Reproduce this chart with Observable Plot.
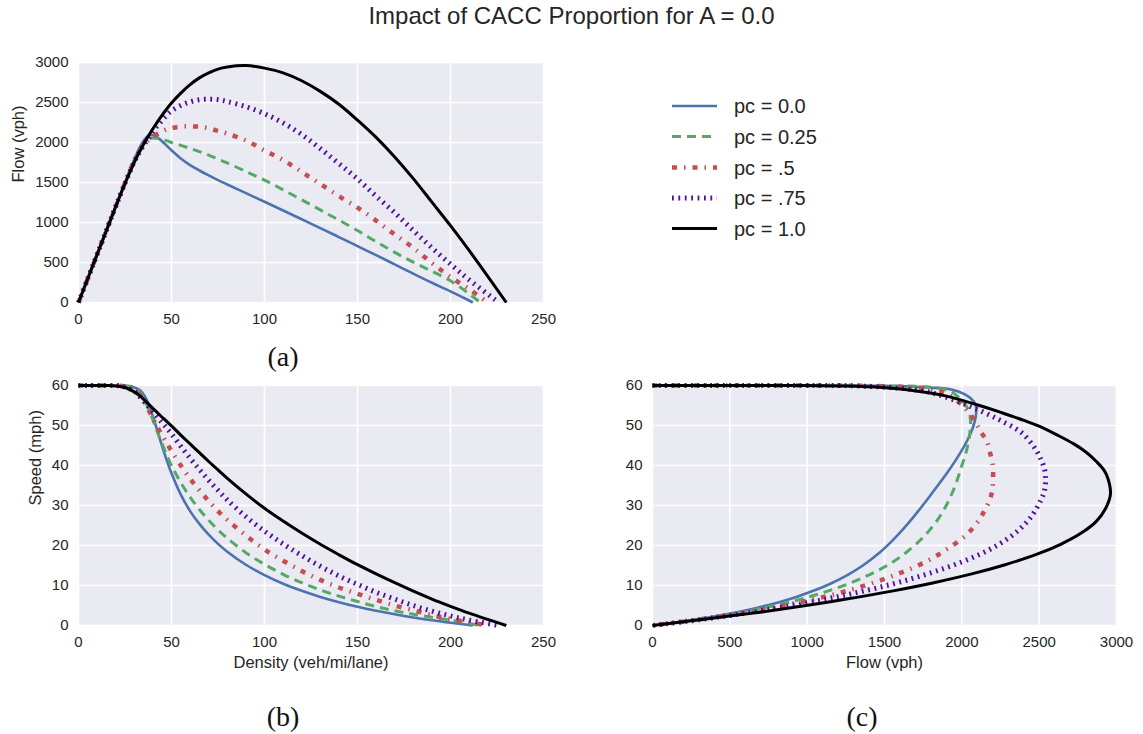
<!DOCTYPE html>
<html>
<head>
<meta charset="utf-8">
<script src="https://cdn.jsdelivr.net/npm/d3@7"></script>
<script src="https://cdn.jsdelivr.net/npm/@observablehq/plot@0.6"></script>
<style>
  body { margin: 0; background: #ffffff; }
  #wrap { position: relative; width: 1143px; height: 734px; overflow: hidden;
          font-family: "Liberation Sans", Arial, sans-serif; color: #262626; background: #fff; }
  .abs { position: absolute; }
  .title { left: 0; width: 1143px; top: 2px; text-align: center; font-size: 24px; line-height: 28px; }
  .sub { font-family: "Liberation Serif", "DejaVu Serif", serif; font-size: 28px; line-height: 32px;
         transform: translate(-50%, -50%); color: #111; white-space: nowrap; }
</style>
</head>
<body>
<div id="wrap">
  <div class="abs title">Impact of CACC Proportion for A = 0.0</div>
  <div id="pa" class="abs" style="left:0px;top:50px;width:560px;height:290px;"></div>
  <div id="pb" class="abs" style="left:0px;top:379px;width:560px;height:300px;"></div>
  <div id="pc" class="abs" style="left:580px;top:379px;width:563px;height:300px;"></div>
  <div id="legend" class="abs" style="left:660px;top:90px;"></div>
  <div class="abs sub" style="left:283px;top:357px;">(a)</div>
  <div class="abs sub" style="left:283px;top:717px;">(b)</div>
  <div class="abs sub" style="left:862px;top:717px;">(c)</div>
</div>
<script>
// ---------------- data ----------------
const pcLabels = ["pc = 0.0", "pc = 0.25", "pc = .5", "pc = .75", "pc = 1.0"];

// shared density grid (veh/mi/lane); each series then ends at its jam density
const density = [0, 5, 10, 15, 20, 25, 30, 33, 36, 38, 40, 42, 44, 47, 50, 55, 60, 65, 70, 75, 80,
                 90, 100, 110, 120, 130, 140, 150, 160, 170, 180, 190, 200, 210];
const jamDensity = [212, 216, 220, 226, 230];

// speed (mph) per series at the density grid
const speedPc00 = [60, 60, 60, 60, 60, 59.9, 59.5, 58.9, 57.0, 55.0, 52.25, 49.3, 46.25, 41.9, 38.06, 32.7, 28.6,
                   25.4, 22.7, 20.4, 18.44, 15.19, 12.6, 10.45, 8.67, 7.15, 5.84, 4.7, 3.7, 2.8, 2.0, 1.3, 0.7, 0.12];
const speedPc25 = [60, 60, 60, 60, 60, 59.9, 59.6, 58.5, 55.8, 53.8, 51.4, 48.9, 46.5, 43.1, 40, 35.7, 32.1,
                   29, 26.3, 23.9, 21.8, 18.2, 15.3, 12.8, 10.7, 8.9, 7.36, 6.0, 4.75, 3.69, 2.8, 2.05, 1.36, 0.52];
const speedPc50 = [60, 60, 60, 60, 60, 59.8, 59.2, 57.8, 55.4, 53.6, 51.8, 50.0, 48.3, 46, 43.6, 40, 36.7,
                   33.8, 31.1, 28.6, 26.4, 22.5, 19, 16.2, 13.6, 11.4, 9.5, 7.9, 6.4, 5, 3.8, 2.6, 1.6, 0.8];
const speedPc75 = [60, 60, 60, 60, 60, 59.6, 58.6, 57.2, 55.6, 54.5, 53.4, 52.3, 51.2, 49.6, 47.9, 44.8, 41.8,
                   39.0, 36.3, 33.8, 31.4, 27.2, 23.6, 20.4, 17.5, 14.8, 12.4, 10.3, 8.3, 6.6, 5.0, 3.6, 2.4, 1.35];
const speedPc100 = [60, 60, 60, 60, 59.9, 59.5, 58.4, 57.4, 56.1, 55.2, 54.3, 53.4, 52.5, 51.2, 49.9, 47.6, 45.4,
                    43.2, 41, 38.9, 36.8, 32.9, 29.3, 26.1, 23.1, 20.3, 17.7, 15.2, 12.9, 10.7, 8.6, 6.6, 4.8, 3.1];

// flow (vph) per series at the density grid
const flowPc00 = [0, 300, 600, 900, 1200, 1498, 1785, 1944, 2052, 2090, 2090, 2070, 2035, 1970, 1903, 1800, 1718,
                  1650, 1588, 1530, 1475, 1367, 1260, 1150, 1040, 930, 818, 705, 592, 476, 360, 247, 140, 25];
const flowPc25 = [0, 300, 600, 900, 1200, 1498, 1788, 1930, 2009, 2044, 2056, 2054, 2046, 2026, 2000, 1964, 1926,
                  1885, 1841, 1793, 1744, 1638, 1530, 1408, 1284, 1157, 1030, 900, 760, 627, 504, 390, 272, 109];
const flowPc50 = [0, 300, 600, 900, 1200, 1495, 1776, 1907, 1994, 2037, 2072, 2100, 2125, 2162, 2180, 2200, 2202,
                  2197, 2177, 2145, 2112, 2025, 1900, 1782, 1632, 1482, 1330, 1185, 1024, 850, 684, 494, 320, 168];
const flowPc75 = [0, 300, 600, 900, 1200, 1490, 1758, 1888, 2002, 2071, 2136, 2197, 2253, 2331, 2395, 2464, 2508,
                  2535, 2541, 2535, 2512, 2448, 2360, 2244, 2100, 1924, 1736, 1545, 1328, 1122, 900, 684, 480, 284];
const flowPc100 = [0, 300, 600, 900, 1198, 1488, 1752, 1894, 2020, 2098, 2172, 2243, 2310, 2406, 2495, 2618, 2724,
                   2808, 2870, 2918, 2944, 2961, 2930, 2871, 2772, 2639, 2478, 2280, 2064, 1819, 1548, 1254, 960, 651];

const densityTicks = [0, 50, 100, 150, 200, 250];
const flowTicksY = [0, 500, 1000, 1500, 2000, 2500, 3000];
const flowTicksX = [0, 500, 1000, 1500, 2000, 2500, 3000];
const speedTicks = [0, 10, 20, 30, 40, 50, 60];

// ---------------- build table ----------------
const speeds = [speedPc00, speedPc25, speedPc50, speedPc75, speedPc100];
const flows = [flowPc00, flowPc25, flowPc50, flowPc75, flowPc100];
const series = pcLabels.map((pc, i) => {
  const rows = density.map((k, j) => ({pc, k, v: speeds[i][j], q: flows[i][j]}));
  rows.push({pc, k: jamDensity[i], v: 0, q: 0});
  return rows;
});

// styles
const colors = ["#4C72B0", "#55A868", "#C44E52", "#52109a", "#000000"];
const widths = [2.6, 3, 4.5, 5, 3];
const dashes = [null, "9,6", "5,7,1.5,7", "1.8,4.6", null];

const font = "'Liberation Sans', Arial, sans-serif";
const fmt = d3.format("d");

function panel({x, y, xDomain, yDomain, xTicks, yTicks, xLabel, yLabel, yLabelDx,
                width, height, ml, mr, mt, mb, curve}) {
  const marks = [
    Plot.frame({fill: "#EAEAF2", stroke: null}),
    Plot.gridX(xTicks, {stroke: "#ffffff", strokeOpacity: 1, strokeWidth: 1.6}),
    Plot.gridY(yTicks, {stroke: "#ffffff", strokeOpacity: 1, strokeWidth: 1.6}),
    Plot.axisX(xTicks, {tickSize: 0, tickPadding: 11, tickFormat: fmt, label: null, fontSize: 15, fill: "#262626"}),
    Plot.axisY(yTicks, {tickSize: 0, tickPadding: 10, tickFormat: fmt, label: null, fontSize: 15, fill: "#262626"})
  ];
  series.forEach((rows, i) => {
    const opts = {x, y, stroke: colors[i], strokeWidth: widths[i], curve, strokeLinecap: "butt",
                  strokeLinejoin: "round"};
    if (dashes[i]) opts.strokeDasharray = dashes[i];
    marks.push(Plot.line(rows, opts));
  });
  if (xLabel) marks.push(Plot.text([xLabel], {frameAnchor: "bottom", dy: 37, lineAnchor: "middle",
                                               fontSize: 16.5, fill: "#262626"}));
  if (yLabel) marks.push(Plot.text([yLabel], {frameAnchor: "left", dx: yLabelDx, rotate: -90,
                                               lineAnchor: "middle", fontSize: 16.5, fill: "#262626"}));
  return Plot.plot({
    width, height, marginLeft: ml, marginRight: mr, marginTop: mt, marginBottom: mb,
    style: {fontFamily: font, color: "#262626", background: "transparent", overflow: "visible"},
    x: {domain: xDomain, type: "linear"},
    y: {domain: yDomain, type: "linear"},
    marks
  });
}

document.getElementById("pa").append(panel({
  x: "k", y: "q", xDomain: [0, 250], yDomain: [0, 3000], xTicks: densityTicks, yTicks: flowTicksY,
  xLabel: null, yLabel: "Flow (vph)", yLabelDx: -60,
  width: 560, height: 290, ml: 78, mr: 17, mt: 12, mb: 38, curve: "catmull-rom"
}));

document.getElementById("pb").append(panel({
  x: "k", y: "v", xDomain: [0, 250], yDomain: [0, 60], xTicks: densityTicks, yTicks: speedTicks,
  xLabel: "Density (veh/mi/lane)", yLabel: "Speed (mph)", yLabelDx: -43,
  width: 560, height: 300, ml: 78, mr: 17, mt: 6, mb: 54, curve: "catmull-rom"
}));

document.getElementById("pc").append(panel({
  x: "q", y: "v", xDomain: [0, 3000], yDomain: [0, 60], xTicks: flowTicksX, yTicks: speedTicks,
  xLabel: "Flow (vph)", yLabel: null, yLabelDx: 0,
  width: 560, height: 300, ml: 72, mr: 24, mt: 6, mb: 54, curve: "catmull-rom"
}));

// ---------------- legend ----------------
const rowY = [16, 46.5, 77.5, 108, 138.5];
const leg = d3.create("svg").attr("width", 220).attr("height", 160)
  .style("font-family", font).style("overflow", "visible");
pcLabels.forEach((pc, i) => {
  const g = leg.append("g").attr("transform", `translate(0,${rowY[i]})`);
  const ln = g.append("line").attr("x1", 12).attr("x2", 57).attr("y1", 0).attr("y2", 0)
    .attr("stroke", colors[i]).attr("stroke-width", widths[i]).attr("stroke-linecap", "butt");
  if (dashes[i]) ln.attr("stroke-dasharray", dashes[i]);
  g.append("text").attr("x", 74).attr("y", 0).attr("dy", "0.36em")
    .attr("font-size", 20).attr("fill", "#262626").text(pc);
});
document.getElementById("legend").append(leg.node());
</script>
</body>
</html>
